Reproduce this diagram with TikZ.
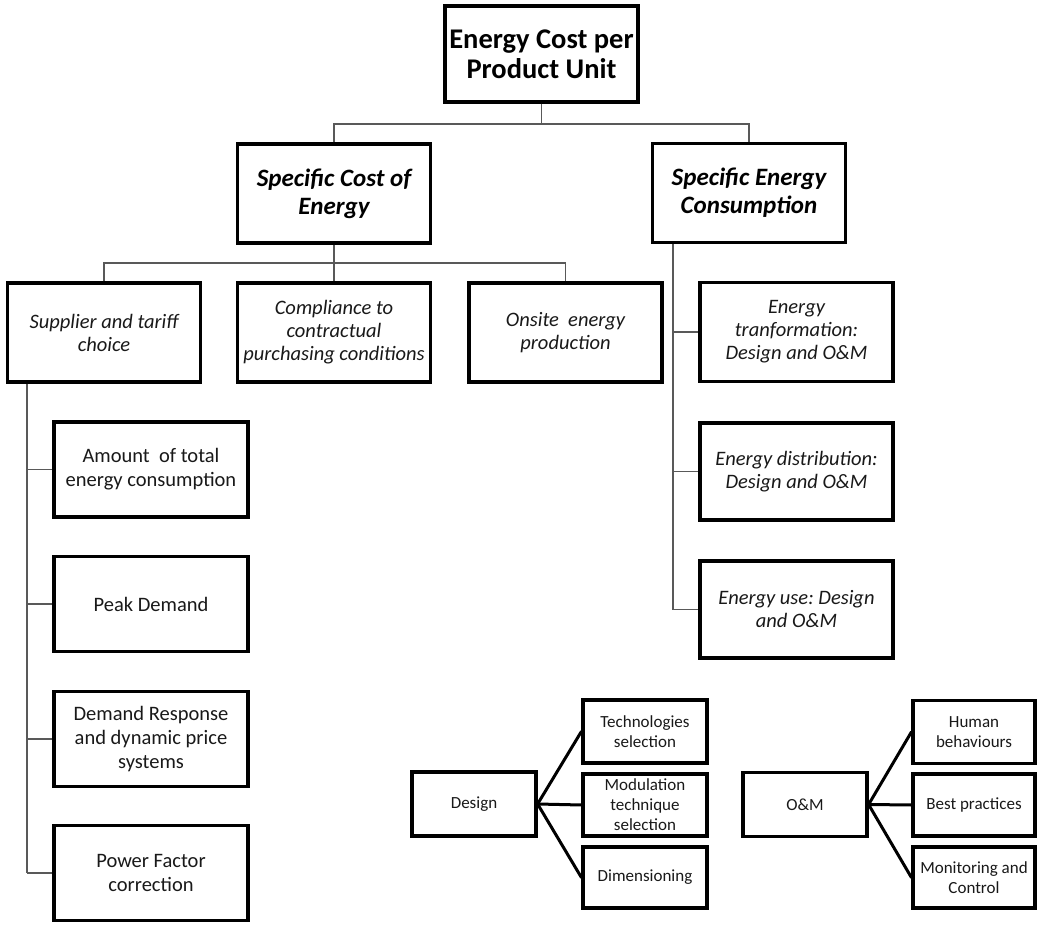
\documentclass[tikz,border=0pt]{standalone}
\usepackage{fontspec}
\setmainfont{Carlito}
\frenchspacing
\begin{document}
\begin{tikzpicture}[x=1pt,y=-1pt,
  box/.style={draw=black, line width=3.2pt, align=center, inner sep=0pt, text=black!90},
  rootbox/.style={box, minimum width=193pt, minimum height=96pt,
    font=\fontsize{28.5}{30}\selectfont\bfseries, text=black},
  mainbox/.style={box, minimum width=193pt, minimum height=99pt,
    font=\fontsize{25}{28}\selectfont\bfseries\itshape, text=black},
  factorbox/.style={box, minimum width=193pt, minimum height=99pt,
    font=\fontsize{20.5}{23}\selectfont\itshape},
  driverbox/.style={box, minimum width=194pt, minimum height=95pt,
    font=\fontsize{20.5}{24}\selectfont},
  leafbox/.style={box, minimum width=124pt, minimum height=63pt,
    font=\fontsize{17}{20}\selectfont},
  conn/.style={draw=black!65, line width=1.5pt},
  fan/.style={draw=black, line width=3pt, line cap=round}
]
\useasboundingbox[fill=white] (0,0) rectangle (1037,939);

% top of the hierarchy
\node[rootbox] (root) at (541.5,54) {Energy Cost per\\Product Unit};

% the two main branches
\node[mainbox] (sce) at (334,193.5) {Specific Cost of\\Energy};
\node[mainbox] (sec) at (749,193) {Specific Energy\\Consumption};

% factors of the specific cost of energy
\node[factorbox] (sup) at (104,332.5) {Supplier and tariff\\choice};
\node[factorbox] (comp) at (334,332.5) {Compliance to\\contractual\\purchasing conditions};
\node[factorbox] (ons) at (565.5,332.5) {Onsite\ \ energy\\production};

% factors of the specific energy consumption
\node[factorbox] (etr) at (796.5,332) {Energy\\tranformation:\\Design and O\&M};
\node[factorbox, minimum height=97pt] (edi) at (796.5,471.5) {Energy distribution:\\Design and O\&M};
\node[factorbox, minimum height=97pt] (eus) at (796.5,609.5) {Energy use: Design\\and O\&M};

% tariff drivers
\node[driverbox] (amt) at (151,469.5) {Amount\ \ of total\\energy consumption};
\node[driverbox] (peak) at (151,604) {Peak Demand};
\node[driverbox] (dr) at (151,739) {Demand Response\\and dynamic price\\systems};
\node[driverbox] (pf) at (151,873) {Power Factor\\correction};

% design breakdown
\node[leafbox, minimum height=64pt] (des) at (474,804) {Design};
\node[leafbox] (tech) at (645,731.5) {Technologies\\selection};
\node[leafbox, minimum height=62pt] (mod) at (645,805) {Modulation\\technique\\selection};
\node[leafbox, minimum height=61pt] (dim) at (645,877.5) {Dimensioning};

% operation and maintenance breakdown
\node[leafbox, minimum height=64pt] (om) at (805,804.5) {O\&M};
\node[leafbox, minimum width=122pt] (hum) at (974,732) {Human\\behaviours};
\node[leafbox, minimum width=122pt, minimum height=62pt] (best) at (974,805) {Best practices};
\node[leafbox, minimum width=122pt, minimum height=61pt] (mon) at (974,877.5) {Monitoring and\\Control};

% bus lines and trunks
\coordinate (busA) at (541.5,124);
\coordinate (busB) at (334,263);
\coordinate (trunkL) at (27,0);
\coordinate (trunkR) at (673,0);

\draw[conn] (root.south) -- (busA);
\draw[conn] (sce.north) |- (busA) -| (sec.north);

\draw[conn] (sce.south) -- (comp.north);
\draw[conn] (sup.north) |- (busB) -| (ons.north);

\draw[conn] (trunkL |- sup.south) -- (trunkL |- pf.west);
\foreach \n in {amt,peak,dr,pf} \draw[conn] (trunkL |- \n.west) -- (\n.west);

\draw[conn] (trunkR |- sec.south) -- (trunkR |- eus.west);
\foreach \n in {etr,edi,eus} \draw[conn] (trunkR |- \n.west) -- (\n.west);

\foreach \n in {tech,mod,dim} \draw[fan] (des.east) -- (\n.west);
\foreach \n in {hum,best,mon} \draw[fan] (om.east) -- (\n.west);
\end{tikzpicture}
\end{document}
